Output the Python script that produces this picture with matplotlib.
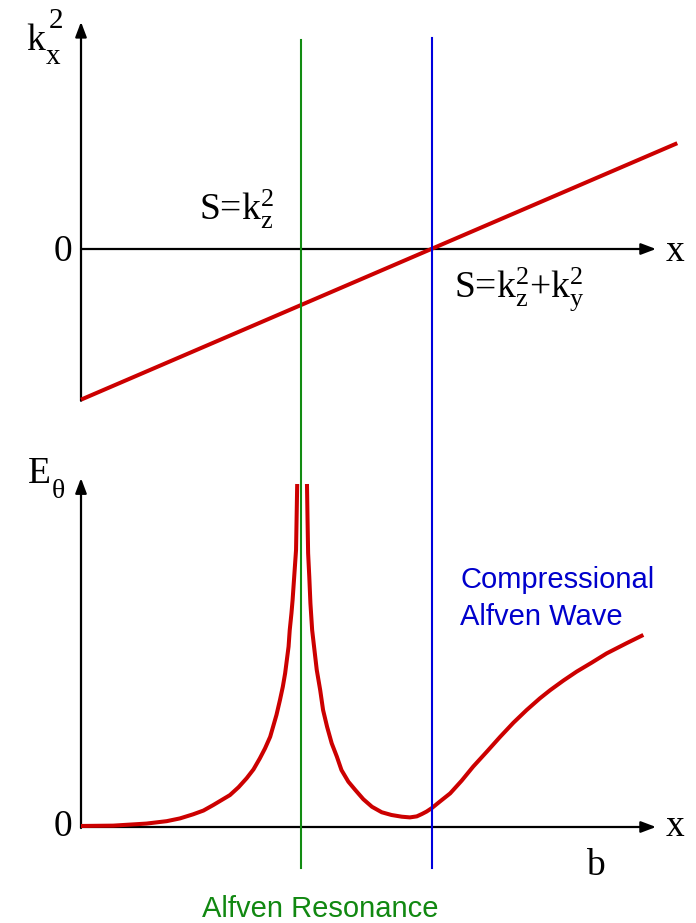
import matplotlib
matplotlib.use("Agg")
import matplotlib.pyplot as plt

plt.rcParams["mathtext.fontset"] = "custom"
plt.rcParams["mathtext.rm"] = "Liberation Serif"
plt.rcParams["mathtext.it"] = "Liberation Serif:italic"

# resonance and cutoff positions along x
x_res = 0.383
x_cut = 0.610

# S - k^2 profile (straight line through the cutoff)
k2_x = [0.0, 1.037]
k2_y = [-0.262, 0.184]

# E_theta, left of the resonance
e_left_x = [0.0, 0.056, 0.114, 0.149, 0.172, 0.195, 0.213, 0.230, 0.247,
            0.259, 0.274, 0.288, 0.300, 0.311, 0.320, 0.329, 0.334, 0.340,
            0.346, 0.351, 0.355, 0.358, 0.361, 0.363, 0.366, 0.368, 0.371,
            0.374, 0.376]
e_left_y = [0.003, 0.004, 0.010, 0.017, 0.025, 0.037, 0.048, 0.064, 0.081,
            0.093, 0.116, 0.142, 0.168, 0.200, 0.229, 0.263, 0.292, 0.327,
            0.370, 0.409, 0.448, 0.487, 0.526, 0.574, 0.623, 0.662, 0.735,
            0.808, 1.0]

# E_theta, right of the resonance
e_right_x = [0.393, 0.394, 0.395, 0.397, 0.399, 0.402, 0.406, 0.410, 0.416,
             0.421, 0.428, 0.436, 0.445, 0.453, 0.465, 0.477, 0.491, 0.506,
             0.523, 0.540, 0.558, 0.572, 0.584, 0.593, 0.601, 0.610, 0.624,
             0.642, 0.662, 0.682, 0.706, 0.729, 0.752, 0.775, 0.798, 0.816,
             0.839, 0.862, 0.888, 0.914, 0.949, 0.978]
e_right_y = [1.0, 0.895, 0.798, 0.730, 0.652, 0.574, 0.516, 0.458, 0.399,
             0.341, 0.292, 0.244, 0.205, 0.166, 0.132, 0.108, 0.081, 0.059,
             0.043, 0.035, 0.030, 0.028, 0.031, 0.038, 0.045, 0.055, 0.074,
             0.098, 0.135, 0.176, 0.220, 0.263, 0.304, 0.341, 0.375, 0.399,
             0.427, 0.453, 0.479, 0.506, 0.536, 0.560]

RED = "#cc0000"
GREEN = "#128c12"
BLUE = "#0000dd"
W, H = 696, 923
XLIM = (-81 / 575, 615 / 575)

serif = ["Liberation Serif", "DejaVu Serif"]
sans = ["Liberation Sans", "DejaVu Sans"]


def fpos(x, y):
    return x / W, 1 - y / H


def axis_arrow(ax, start, end):
    ax.annotate("", xy=end, xytext=start,
                arrowprops=dict(arrowstyle="-|>,head_length=0.45,head_width=0.17",
                                mutation_scale=20, lw=1.6, color="black",
                                shrinkA=0, shrinkB=0))


fig = plt.figure(figsize=(W / 100, H / 100), dpi=100)

line_kw = dict(color=RED, lw=2.9, solid_capstyle="butt",
               solid_joinstyle="round", zorder=3)

# upper panel: k_x^2
ax1 = fig.add_axes([0, 1 - 420 / H, 1, 420 / H])
ax1.set_xlim(*XLIM)
ax1.set_ylim((249 - 420) / 575, 249 / 575)
ax1.axis("off")
axis_arrow(ax1, (0, 0), (1.0, 0))
axis_arrow(ax1, (0, -0.264), (0, 0.395))
ax1.plot(k2_x, k2_y, **line_kw)

# lower panel: E_theta
ax2 = fig.add_axes([0, 0, 1, 483 / H])
ax2.set_xlim(*XLIM)
ax2.set_ylim((827 - 923) / 343, (827 - 440) / 343)
ax2.axis("off")
axis_arrow(ax2, (0, 0), (1.0, 0))
axis_arrow(ax2, (0, -0.003), (0, 1.017))
ax2.plot(e_left_x, e_left_y, **line_kw)
ax2.plot(e_right_x, e_right_y, **line_kw)

# vertical markers spanning both panels
ov = fig.add_axes([0, 0, 1, 1])
ov.set_xlim(*XLIM)
ov.set_ylim(0, 1)
ov.axis("off")
ov.axvline(x_res, ymin=1 - 868 / H, ymax=1 - 40 / H, color=GREEN, lw=1.5)
ov.axvline(x_cut, ymin=1 - 868 / H, ymax=1 - 38 / H, color=BLUE, lw=1.5)

# labels
fs = 27
fig.text(*fpos(26, 50), "k", family=serif, fontsize=fs, va="baseline")
fig.text(*fpos(46, 64), "x", family=serif, fontsize=21, va="baseline")
fig.text(*fpos(49, 28), "2", family=serif, fontsize=21, va="baseline")
fig.text(*fpos(72, 252), "0", family=serif, fontsize=fs, ha="right", va="center")
fig.text(*fpos(666, 252), "x", family=serif, fontsize=fs, va="center")
fig.text(*fpos(199, 220), r"S=k$_\mathrm{z}^\mathrm{2}$", family=serif,
         fontsize=fs, va="baseline")
fig.text(*fpos(454, 297), r"S=k$_\mathrm{z}^\mathrm{2}$+k$_\mathrm{y}^\mathrm{2}$",
         family=serif, fontsize=fs, va="baseline")

fig.text(*fpos(28, 483), "E", family=serif, fontsize=fs, va="baseline")
fig.text(*fpos(52, 498), "\u03b8", family=serif, fontsize=20, va="baseline")
fig.text(*fpos(72, 827), "0", family=serif, fontsize=fs, ha="right", va="center")
fig.text(*fpos(666, 827), "x", family=serif, fontsize=fs, va="center")
fig.text(*fpos(586, 875), "b", family=serif, fontsize=fs, va="baseline")

fig.text(*fpos(460, 588), "Compressional", family=sans, fontsize=21,
         color="#0000cc", va="baseline")
fig.text(*fpos(460, 625), "Alfven Wave", family=sans, fontsize=21,
         color="#0000cc", va="baseline")
fig.text(*fpos(320, 917), "Alfven Resonance", family=sans, fontsize=21,
         color="#118811", ha="center", va="baseline")

fig.savefig("out.png", dpi=100)
